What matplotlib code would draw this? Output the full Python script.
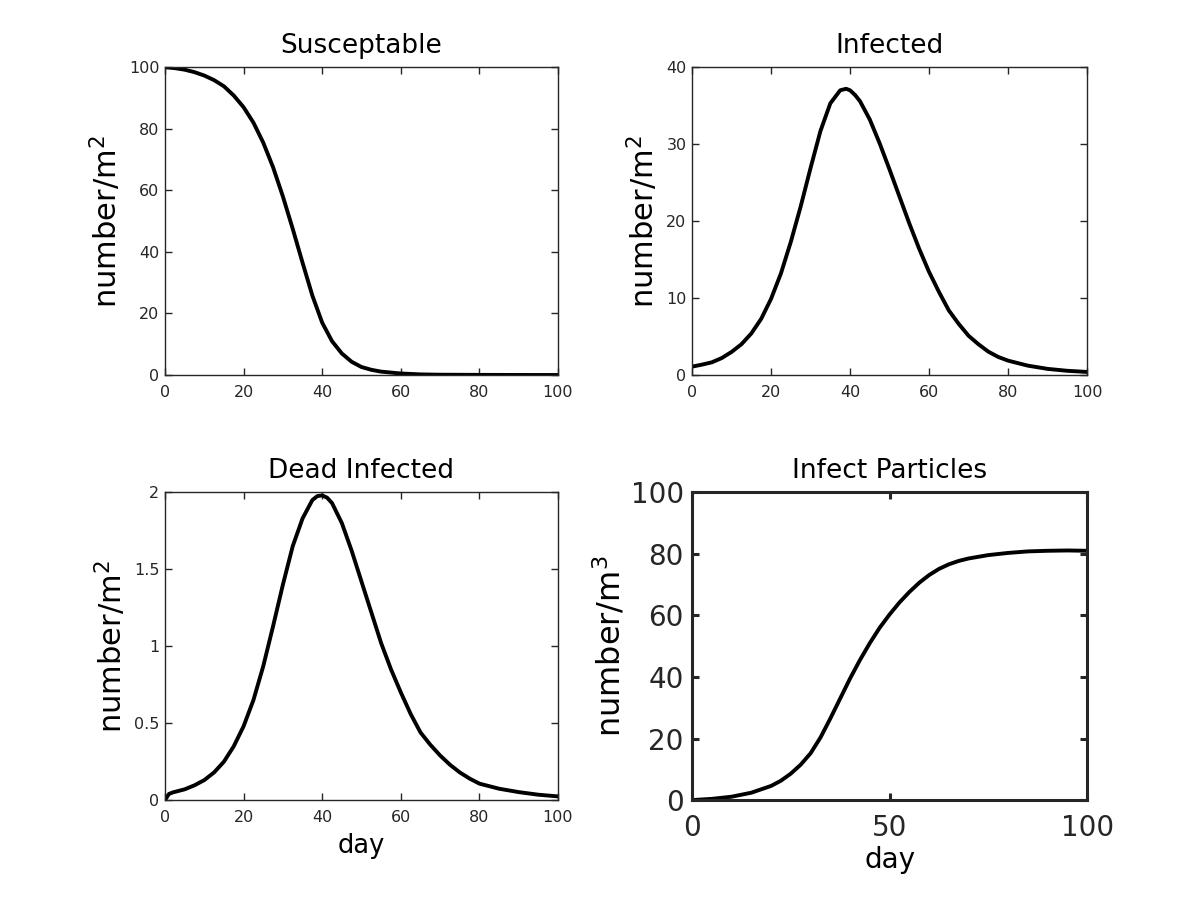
import matplotlib
matplotlib.use("Agg")
import matplotlib.pyplot as plt

# Susceptable (number/m^2)
sus_day = [0, 2.5, 5, 7.5, 10, 12.5, 15, 17.5, 20, 22.5, 25, 27.5, 30, 32.5, 35, 37.5, 40, 42.5, 45, 47.5, 50,
           52.5, 55, 57.5, 60, 65, 70, 80, 90, 100]
sus_val = [100, 99.7, 99.2, 98.4, 97.3, 95.8, 93.8, 90.8, 87, 82, 75.5, 67.5, 58, 47.5, 36.5, 25.8, 17, 11, 7, 4.3, 2.6,
           1.7, 1.1, 0.8, 0.5, 0.2, 0.1, 0.05, 0.02, 0.01]

# Infected (number/m^2)
inf_day = [0, 2.5, 5, 7.5, 10, 12.5, 15, 17.5, 20, 22.5, 25, 27.5, 30, 32.5, 35, 37.5, 39, 40, 41.25, 42.5, 45, 47.5,
           50, 52.5, 55, 57.5, 60, 62.5, 65, 67.5, 70, 72.5, 75, 77.5, 80, 85, 90, 95, 100]
inf_val = [1.09, 1.35, 1.65, 2.2, 3.0, 4.0, 5.4, 7.3, 9.9, 13.2, 17.3, 21.9, 26.9, 31.7, 35.3, 37.0, 37.2, 37.0, 36.4, 35.6, 33.2, 30.1,
           26.7, 23.2, 19.7, 16.4, 13.4, 10.8, 8.4, 6.65, 5.1, 4.0, 3.04, 2.35, 1.87, 1.22, 0.8, 0.55, 0.4]

# Dead Infected (number/m^2)
dead_day = [0, 1, 2, 5, 7.5, 10, 12.5, 15, 17.5, 20, 22.5, 25, 27.5, 30, 32.5, 35, 37.5, 38.75, 40, 41.25, 42.5, 45, 47.5,
            50, 52.5, 55, 57.5, 60, 62.5, 65, 67.5, 70, 72.5, 75, 77.5, 80, 85, 90, 95, 100]
dead_val = [0, 0.04, 0.05, 0.07, 0.096, 0.13, 0.18, 0.25, 0.35, 0.48, 0.65, 0.87, 1.13, 1.40, 1.65, 1.83, 1.95, 1.975, 1.98, 1.965, 1.93, 1.80, 1.62,
            1.42, 1.22, 1.02, 0.85, 0.70, 0.56, 0.44, 0.36, 0.29, 0.23, 0.18, 0.14, 0.107, 0.074, 0.052, 0.035, 0.024]

# Infect Particles (number/m^3)
par_day = [0, 5, 10, 15, 20, 22.5, 25, 27.5, 30, 32.5, 35, 37.5, 40, 42.5, 45, 47.5, 50, 52.5, 55, 57.5,
           60, 62.5, 65, 67.5, 70, 75, 80, 85, 90, 95, 100]
par_val = [0, 0.4, 1.1, 2.4, 4.6, 6.3, 8.6, 11.5, 15.2, 20.3, 26.5, 33, 39.5, 45.5, 51, 56, 60.3, 64.2, 67.6, 70.6,
           73.1, 75.1, 76.6, 77.7, 78.5, 79.6, 80.3, 80.8, 81.0, 81.1, 81.0]

fig = plt.figure(figsize=(12, 9), dpi=100)
tc = "#262626"

def style(ax, tick_fs, lw, xpad, ypad):
    for s in ax.spines.values():
        s.set_linewidth(lw)
        s.set_color(tc)
    ax.tick_params(direction="in", top=True, right=True, length=5, width=lw,
                   labelsize=tick_fs, colors=tc)
    ax.tick_params(axis="x", pad=xpad)
    ax.tick_params(axis="y", pad=ypad)

def curve(ax, x, y):
    ax.plot(x, y, color="black", lw=2.8, solid_joinstyle="round", solid_capstyle="round")

ax1 = fig.add_axes([0.1375, 0.5833, 0.3275, 0.342])
curve(ax1, sus_day, sus_val)
ax1.set_xlim(0, 100)
ax1.set_ylim(0, 100)
ax1.set_title("Susceptable", fontsize=19, pad=10)
ax1.set_ylabel("number/m$^{2}$", fontsize=22)
style(ax1, 11.5, 1.0, 7, 4)

ax2 = fig.add_axes([0.5767, 0.5833, 0.3292, 0.342])
curve(ax2, inf_day, inf_val)
ax2.set_xlim(0, 100)
ax2.set_ylim(0, 40)
ax2.set_yticks([0, 10, 20, 30, 40])
ax2.set_title("Infected", fontsize=19, pad=10)
ax2.set_ylabel("number/m$^{2}$", fontsize=22)
style(ax2, 11.5, 1.0, 7, 4)

ax3 = fig.add_axes([0.1375, 0.111, 0.3275, 0.342])
curve(ax3, dead_day, dead_val)
ax3.set_xlim(0, 100)
ax3.set_ylim(0, 2)
ax3.set_yticks([0, 0.5, 1, 1.5, 2])
ax3.set_yticklabels(["0", "0.5", "1", "1.5", "2"])
ax3.set_title("Dead Infected", fontsize=19, pad=10)
ax3.set_ylabel("number/m$^{2}$", fontsize=22)
ax3.set_xlabel("day", fontsize=18.5, labelpad=6)
style(ax3, 11.5, 1.0, 7, 4)

ax4 = fig.add_axes([0.5767, 0.111, 0.3292, 0.342])
curve(ax4, par_day, par_val)
ax4.set_xlim(0, 100)
ax4.set_ylim(0, 100)
ax4.set_xticks([0, 50, 100])
ax4.set_yticks([0, 20, 40, 60, 80, 100])
ax4.set_title("Infect Particles", fontsize=19, pad=10)
ax4.set_ylabel("number/m$^{3}$", fontsize=23, labelpad=2)
ax4.set_xlabel("day", fontsize=20, labelpad=3)
style(ax4, 20, 2.2, 10, 6)

fig.savefig("out.png", dpi=100)
